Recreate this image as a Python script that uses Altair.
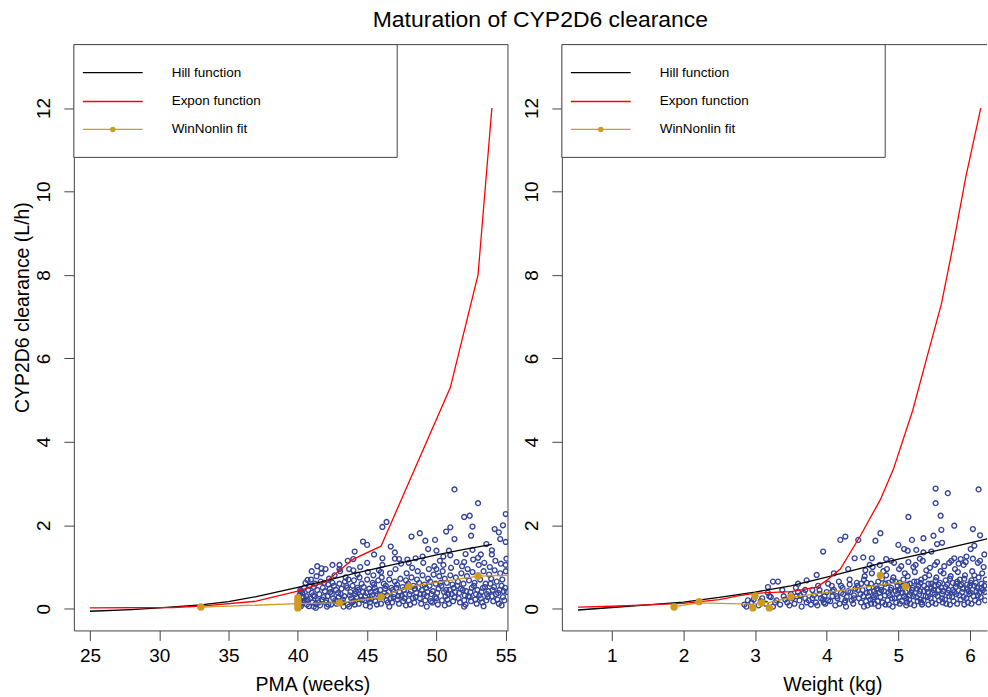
import altair as alt
import pandas as pd

FONT = "Liberation Sans, Arial, Helvetica, sans-serif"
FRAME = "#444444"
BLUE = "#34449A"
ORANGE = "#CD9B1D"

# ---------------- data ----------------
pma_ticks = [25, 30, 35, 40, 45, 50, 55]
wt_ticks = [1, 2, 3, 4, 5, 6]
cl_ticks = [0, 2, 4, 6, 8, 10, 12]

# Hill function (black)
hill_pma = [25, 28, 30, 33, 35, 37, 40, 42, 44, 46, 48, 50, 52, 54]
hill_cl_pma = [-0.06, -0.02, 0.02, 0.09, 0.17, 0.29, 0.51, 0.67, 0.84, 0.99, 1.14, 1.29, 1.42, 1.54]
hill_wt = [0.53, 1.0, 1.5, 2.0, 2.5, 3.0, 3.5, 4.0, 4.5, 5.0, 5.5, 6.0, 6.3]
hill_cl_wt = [-0.03, 0.03, 0.09, 0.16, 0.27, 0.40, 0.55, 0.76, 0.98, 1.19, 1.38, 1.58, 1.70]

# Expon function (red)
exp_pma = [25, 31, 33, 37, 40, 42, 44, 46, 51, 53, 54]
exp_cl_pma = [0.02, 0.03, 0.06, 0.18, 0.42, 0.64, 1.19, 1.50, 5.30, 8.00, 12.00]
exp_wt = [0.53, 1.0, 1.5, 2.0, 2.5, 2.8, 3.0, 3.5, 3.86, 4.0, 4.19, 4.47, 4.75, 4.93,
          5.2, 5.39, 5.6, 5.76, 5.94, 6.15]
exp_cl_wt = [0.04, 0.06, 0.09, 0.13, 0.22, 0.32, 0.37, 0.41, 0.52, 0.68, 0.95, 1.75, 2.62, 3.34,
             4.75, 5.97, 7.30, 8.67, 10.34, 12.00]

# WinNonlin fit (orange): line and points
wnl_line_pma = [33, 40, 43, 46, 48, 53, 55.1]
wnl_line_cl_pma = [0.04, 0.12, 0.14, 0.28, 0.53, 0.78, 0.80]
wnl_pts_pma = [33, 40, 40, 40, 40, 43, 46, 48, 53]
wnl_pts_cl_pma = [0.04, 0.02, 0.10, 0.18, 0.26, 0.14, 0.28, 0.53, 0.78]
wnl_line_wt = [1.87, 2.21, 2.95, 3.2, 3.5, 3.95, 4.64, 5.1]
wnl_line_cl_wt = [0.05, 0.14, 0.11, 0.15, 0.27, 0.38, 0.54, 0.65]
wnl_pts_wt = [1.87, 2.22, 2.97, 3.0, 3.09, 3.2, 3.5, 4.75, 5.1]
wnl_pts_cl_wt = [0.04, 0.17, 0.02, 0.30, 0.14, 0.02, 0.28, 0.80, 0.53]

# observed clearance vs PMA (blue open circles)
obs_pma_points = [
    (40.05, 0.05), (40.2, 0.12), (40.1, 0.2), (40.3, 0.28), (40.15, 0.35), (40.35, 0.15), (40.25, 0.42), (40.1, 0.08),
    (40.5, 0.18), (40.6, 0.3), (40.45, 0.5), (40.7, 0.22), (40.55, 0.62), (40.65, 0.1),
    (40.9, 0.25), (41.0, 0.38), (40.85, 0.55), (41.05, 0.15), (40.95, 0.7), (41.1, 0.32),
    (41.3, 0.12), (41.2, 0.3), (41.4, 0.45), (41.25, 0.6), (41.45, 0.2), (41.35, 0.78), (41.15, 0.05),
    (41.6, 0.08), (41.75, 0.22), (41.55, 0.35), (41.8, 0.5), (41.65, 0.65), (41.85, 0.28), (41.7, 0.85),
    (42.0, 0.15), (42.15, 0.3), (41.95, 0.42), (42.2, 0.58), (42.05, 0.2), (42.25, 0.72), (42.1, 0.05),
    (42.4, 0.1), (42.55, 0.25), (42.35, 0.4), (42.6, 0.55), (42.45, 0.35), (42.65, 0.8), (42.5, 0.62),
    (42.8, 0.12), (42.95, 0.28), (42.75, 0.45), (43.0, 0.6), (42.85, 0.18), (43.05, 0.9), (42.9, 0.38),
    (43.2, 0.15), (43.35, 0.3), (43.15, 0.48), (43.4, 0.65), (43.25, 0.22), (43.45, 0.75), (43.3, 0.05),
    (43.6, 0.1), (43.75, 0.32), (43.55, 0.5), (43.8, 0.4), (43.65, 0.7), (43.85, 0.25), (43.7, 0.95),
    (44.0, 0.18), (44.15, 0.35), (43.95, 0.55), (44.2, 0.42), (44.05, 0.68), (44.25, 0.28), (44.1, 0.1), (44.3, 0.82),
    (44.4, 0.12), (44.55, 0.3), (44.35, 0.45), (44.6, 0.6), (44.45, 0.75), (44.65, 0.22), (44.5, 1.0),
    (44.8, 0.2), (44.95, 0.38), (44.75, 0.52), (45.0, 0.7), (44.85, 0.3), (45.05, 0.88), (44.9, 0.08),
    (45.2, 0.15), (45.35, 0.32), (45.15, 0.48), (45.4, 0.62), (45.25, 0.4), (45.45, 0.8), (45.3, 0.25),
    (45.6, 0.18), (45.75, 0.35), (45.55, 0.5), (45.8, 0.68), (45.65, 0.42), (45.85, 0.92), (45.7, 0.1),
    (46.0, 0.12), (46.15, 0.3), (45.95, 0.45), (46.2, 0.6), (46.05, 0.75), (46.25, 0.38), (46.1, 1.05),
    (46.4, 0.2), (46.55, 0.4), (46.35, 0.55), (46.6, 0.7), (46.45, 0.32), (46.65, 0.85), (46.5, 0.15),
    (46.8, 0.15), (46.95, 0.35), (46.75, 0.5), (47.0, 0.65), (46.85, 0.45), (47.05, 0.95), (46.9, 0.28),
    (47.2, 0.22), (47.35, 0.4), (47.15, 0.58), (47.4, 0.72), (47.25, 0.3), (47.45, 1.08), (47.3, 0.12),
    (47.6, 0.18), (47.75, 0.35), (47.55, 0.52), (47.8, 0.68), (47.65, 0.45), (47.85, 0.85), (47.7, 0.25),
    (48.0, 0.2), (48.15, 0.42), (47.95, 0.6), (48.2, 0.75), (48.05, 0.35), (48.25, 0.98), (48.1, 0.1),
    (48.4, 0.15), (48.55, 0.38), (48.35, 0.55), (48.6, 0.7), (48.45, 0.48), (48.65, 0.9), (48.5, 0.28),
    (48.8, 0.25), (48.95, 0.45), (48.75, 0.62), (49.0, 0.8), (48.85, 0.35), (49.05, 1.1), (48.9, 0.12),
    (49.2, 0.2), (49.35, 0.4), (49.15, 0.58), (49.4, 0.72), (49.25, 0.5), (49.45, 0.95), (49.3, 0.3),
    (49.6, 0.18), (49.75, 0.42), (49.55, 0.65), (49.8, 0.82), (49.65, 0.35), (49.85, 1.02), (49.7, 0.15),
    (50.0, 0.25), (50.15, 0.48), (49.95, 0.6), (50.2, 0.78), (50.05, 0.38), (50.25, 1.15), (50.1, 0.1),
    (50.4, 0.2), (50.55, 0.4), (50.35, 0.55), (50.6, 0.72), (50.45, 0.9), (50.65, 0.3), (50.5, 1.05),
    (50.8, 0.22), (50.95, 0.45), (50.75, 0.62), (51.0, 0.8), (50.85, 0.35), (51.05, 0.98), (50.9, 0.12),
    (51.2, 0.18), (51.35, 0.4), (51.15, 0.58), (51.4, 0.75), (51.25, 0.5), (51.45, 1.12), (51.3, 0.28),
    (51.6, 0.25), (51.75, 0.48), (51.55, 0.65), (51.8, 0.85), (51.65, 0.38), (51.85, 1.02), (51.7, 0.15),
    (52.0, 0.2), (52.15, 0.42), (51.95, 0.6), (52.2, 0.78), (52.05, 0.32), (52.25, 0.95), (52.1, 0.1),
    (52.4, 0.28), (52.55, 0.5), (52.35, 0.68), (52.6, 0.88), (52.45, 0.4), (52.65, 1.18), (52.5, 0.18),
    (52.8, 0.22), (52.95, 0.45), (52.75, 0.62), (53.0, 0.8), (52.85, 0.35), (53.05, 1.05), (52.9, 0.12),
    (53.2, 0.25), (53.35, 0.5), (53.15, 0.7), (53.4, 0.9), (53.25, 0.4), (53.45, 1.1), (53.3, 0.15),
    (53.6, 0.2), (53.75, 0.42), (53.55, 0.6), (53.8, 0.82), (53.65, 0.35), (53.85, 1.0), (53.7, 0.28),
    (54.0, 0.3), (54.15, 0.52), (53.95, 0.72), (54.2, 0.92), (54.05, 0.45), (54.25, 1.15), (54.1, 0.18),
    (54.4, 0.22), (54.55, 0.45), (54.35, 0.65), (54.6, 0.85), (54.45, 0.38), (54.65, 1.08), (54.5, 0.12),
    (54.8, 0.28), (54.95, 0.5), (54.75, 0.7), (55.0, 0.9), (54.85, 0.42), (55.05, 1.2), (54.9, 0.2),
    (40.02, 0.25), (40.12, 0.32), (40.22, 0.06), (40.32, 0.38), (40.18, 0.45), (40.4, 0.28), (40.28, 0.18),
    (40.75, 0.45), (40.8, 0.06), (41.15, 0.52), (41.5, 0.15), (41.9, 0.62), (42.3, 0.48), (42.7, 0.2),
    (43.1, 0.35), (43.5, 0.55), (43.9, 0.15), (44.3, 0.5), (44.7, 0.4), (45.1, 0.22), (45.5, 0.58),
    (45.9, 0.3), (46.3, 0.48), (46.7, 0.25), (47.1, 0.5), (47.5, 0.32), (47.9, 0.55), (48.3, 0.25),
    (48.7, 0.5), (49.1, 0.35), (49.5, 0.55), (49.9, 0.28), (50.3, 0.62), (50.7, 0.45), (51.1, 0.35),
    (51.5, 0.55), (51.9, 0.45), (52.3, 0.3), (52.7, 0.55), (53.1, 0.32), (53.5, 0.52), (53.9, 0.6),
    (54.3, 0.35), (54.7, 0.55), (55.1, 0.4),
    (41.0, 0.9), (42.0, 0.95), (43.0, 1.05), (44.0, 0.92), (45.0, 1.1), (46.0, 0.88), (47.0, 1.2),
    (48.0, 1.1), (49.0, 1.25), (50.0, 0.95), (51.0, 1.28), (52.0, 1.12), (53.0, 1.22), (54.0, 1.3), (55.0, 1.05),
    (41.3, 0.02), (42.2, 0.1), (43.7, 0.05), (45.2, 0.05), (46.6, 0.05), (47.8, 0.08), (49.3, 0.05),
    (50.6, 0.08), (52.0, 0.05), (53.4, 0.06), (54.7, 0.08),
    (51.3, 2.86), (53.0, 2.53), (52.0, 2.2), (52.4, 2.23), (52.6, 1.97), (46.4, 2.08), (46.1, 1.96),
    (44.7, 1.61), (45.0, 1.53), (44.1, 1.37), (55.0, 2.27), (48.2, 1.73), (48.8, 1.81), (49.2, 1.63),
    (49.9, 1.65), (51.3, 1.67), (52.5, 1.75), (54.2, 1.91), (54.5, 1.83), (54.6, 1.67), (46.7, 1.49),
    (41.4, 1.02), (41.7, 0.97), (40.7, 0.69), (43.6, 1.15), (44.0, 1.19), (46.1, 1.21), (47.3, 1.19),
    (47.9, 1.18), (48.5, 1.21), (49.4, 1.43), (50.0, 1.39), (50.9, 1.39), (52.1, 1.31), (52.6, 1.41),
    (53.6, 1.55), (42.5, 1.05), (43.0, 0.95), (45.5, 1.3), (47.0, 1.35), (50.5, 1.25), (53.2, 1.3),
    (54.0, 1.4), (55.0, 1.6), (54.8, 2.0), (50.7, 1.85), (51.0, 1.95),
]

# observed clearance vs weight (blue open circles)
obs_wt_points = [
    (2.85, 0.1), (2.9, 0.2), (2.88, 0.05), (2.95, 0.15), (3.0, 0.3), (2.98, 0.22),
    (3.05, 0.08), (3.1, 0.25), (3.08, 0.18), (3.15, 0.12), (3.2, 0.3), (3.18, 0.38),
    (3.25, 0.05), (3.3, 0.2), (3.28, 0.15), (3.22, 0.28), (3.35, 0.1), (3.4, 0.3), (3.38, 0.45), (3.42, 0.22),
    (3.45, 0.15), (3.5, 0.35), (3.48, 0.08), (3.52, 0.25), (3.55, 0.12), (3.6, 0.4), (3.58, 0.3), (3.62, 0.2), (3.57, 0.5),
    (3.65, 0.05), (3.7, 0.25), (3.68, 0.38), (3.72, 0.15), (3.75, 0.2), (3.8, 0.45), (3.78, 0.1), (3.82, 0.32),
    (3.85, 0.15), (3.9, 0.35), (3.88, 0.55), (3.92, 0.25), (3.87, 0.08),
    (3.95, 0.22), (4.0, 0.4), (3.98, 0.12), (4.02, 0.6), (3.97, 0.3),
    (4.05, 0.18), (4.1, 0.45), (4.08, 0.3), (4.12, 0.08), (4.07, 0.55),
    (4.15, 0.25), (4.2, 0.38), (4.18, 0.12), (4.22, 0.5), (4.17, 0.65),
    (4.25, 0.15), (4.3, 0.42), (4.28, 0.28), (4.32, 0.58), (4.27, 0.05), (4.23, 0.35),
    (4.35, 0.2), (4.4, 0.48), (4.38, 0.32), (4.42, 0.62), (4.37, 0.12), (4.33, 0.4),
    (4.45, 0.25), (4.5, 0.45), (4.48, 0.15), (4.52, 0.7), (4.47, 0.35), (4.43, 0.55),
    (4.55, 0.18), (4.6, 0.4), (4.58, 0.3), (4.62, 0.6), (4.57, 0.08), (4.53, 0.78), (4.59, 0.5),
    (4.65, 0.22), (4.7, 0.48), (4.68, 0.35), (4.72, 0.65), (4.67, 0.12), (4.63, 0.85), (4.69, 0.55),
    (4.75, 0.28), (4.8, 0.42), (4.78, 0.15), (4.82, 0.6), (4.77, 0.72), (4.73, 0.38), (4.79, 0.9),
    (4.85, 0.2), (4.9, 0.5), (4.88, 0.32), (4.92, 0.68), (4.87, 0.1), (4.83, 0.8), (4.89, 0.45),
    (4.95, 0.25), (5.0, 0.45), (4.98, 0.35), (5.02, 0.62), (4.97, 0.15), (4.93, 0.75), (4.99, 0.55), (5.01, 0.95),
    (5.05, 0.18), (5.1, 0.4), (5.08, 0.3), (5.12, 0.58), (5.07, 0.7), (5.03, 0.48), (5.09, 0.85), (5.11, 0.08),
    (5.15, 0.22), (5.2, 0.5), (5.18, 0.38), (5.22, 0.65), (5.17, 0.12), (5.13, 0.78), (5.19, 0.45), (5.21, 1.0),
    (5.25, 0.28), (5.3, 0.42), (5.28, 0.55), (5.32, 0.7), (5.27, 0.18), (5.23, 0.88), (5.29, 0.35), (5.31, 0.62),
    (5.35, 0.2), (5.4, 0.48), (5.38, 0.3), (5.42, 0.6), (5.37, 0.75), (5.33, 0.1), (5.39, 0.92), (5.41, 0.4),
    (5.45, 0.25), (5.5, 0.55), (5.48, 0.38), (5.52, 0.68), (5.47, 0.15), (5.43, 0.8), (5.49, 0.45), (5.51, 1.05),
    (5.55, 0.3), (5.6, 0.5), (5.58, 0.62), (5.62, 0.42), (5.57, 0.2), (5.53, 0.75), (5.59, 0.9), (5.61, 0.35),
    (5.65, 0.22), (5.7, 0.45), (5.68, 0.58), (5.72, 0.72), (5.67, 0.12), (5.63, 0.85), (5.69, 0.38), (5.71, 1.1),
    (5.75, 0.28), (5.8, 0.52), (5.78, 0.4), (5.82, 0.65), (5.77, 0.18), (5.73, 0.78), (5.79, 0.95), (5.81, 0.6),
    (5.85, 0.32), (5.9, 0.48), (5.88, 0.58), (5.92, 0.72), (5.87, 0.22), (5.83, 0.88), (5.89, 0.4), (5.91, 1.05),
    (5.95, 0.25), (6.0, 0.55), (5.98, 0.42), (6.02, 0.68), (5.97, 0.15), (5.93, 0.8), (5.99, 0.35), (6.01, 0.62),
    (6.05, 0.3), (6.1, 0.5), (6.08, 0.62), (6.12, 0.75), (6.07, 0.2), (6.03, 0.9), (6.09, 0.42), (6.11, 1.1),
    (6.15, 0.28), (6.2, 0.55), (6.18, 0.45), (6.22, 0.7), (6.17, 0.85), (6.13, 0.38), (6.19, 1.0),
    (4.51, 0.3), (4.56, 0.62), (4.61, 0.22), (4.66, 0.42), (4.71, 0.18), (4.76, 0.52), (4.81, 0.32),
    (4.86, 0.62), (4.91, 0.25), (4.96, 0.42), (5.01, 0.28), (5.06, 0.55), (5.11, 0.25), (5.16, 0.6),
    (5.21, 0.3), (5.26, 0.48), (5.31, 0.22), (5.36, 0.55), (5.41, 0.28), (5.46, 0.6), (5.51, 0.35),
    (5.56, 0.45), (5.61, 0.25), (5.66, 0.52), (5.71, 0.3), (5.76, 0.45), (5.81, 0.35), (5.86, 0.55),
    (5.91, 0.28), (5.96, 0.48), (6.01, 0.38), (6.06, 0.55), (6.11, 0.32), (6.16, 0.6), (6.21, 0.4),
    (4.54, 0.92), (4.64, 1.0), (4.74, 1.05), (4.84, 0.95), (4.94, 1.1), (5.04, 1.02), (5.14, 1.12),
    (5.24, 1.05), (5.34, 1.15), (5.44, 0.98), (5.54, 1.12), (5.64, 1.02), (5.74, 1.15), (5.84, 1.08),
    (5.94, 1.12), (6.04, 1.2), (6.14, 1.15),
    (4.52, 0.05), (4.62, 0.12), (4.72, 0.06), (4.82, 0.1), (4.92, 0.05), (5.02, 0.12), (5.12, 0.15),
    (5.22, 0.08), (5.32, 0.15), (5.42, 0.1), (5.52, 0.12), (5.62, 0.15), (5.72, 0.1), (5.82, 0.12),
    (5.92, 0.1), (6.02, 0.12), (6.12, 0.15), (6.21, 0.2),
    (4.56, 0.38), (4.66, 0.28), (4.76, 0.45), (4.86, 0.38), (4.96, 0.65), (5.06, 0.38), (5.16, 0.32),
    (5.26, 0.65), (5.36, 0.42), (5.46, 0.5), (5.56, 0.58), (5.66, 0.68), (5.76, 0.62), (5.86, 0.7),
    (5.96, 0.58), (6.06, 0.8), (6.16, 0.5),
    (4.02, 0.2), (4.08, 0.42), (4.14, 0.3), (4.2, 0.55), (4.26, 0.2), (4.32, 0.7), (4.38, 0.25),
    (4.44, 0.45), (4.48, 0.6), (3.9, 0.45), (3.96, 0.15), (3.8, 0.25), (3.7, 0.45), (3.63, 0.32),
    (5.52, 2.88), (5.69, 2.77), (6.12, 2.86), (5.52, 2.53), (5.59, 2.23), (5.14, 2.2),
    (5.49, 1.75), (5.6, 1.89), (5.78, 1.99), (6.04, 1.91), (6.14, 1.76), (4.75, 1.81), (4.68, 1.63),
    (4.19, 1.65), (4.26, 1.73), (4.44, 1.65), (3.95, 1.37), (5.0, 1.53), (5.19, 1.65), (5.35, 1.69),
    (5.54, 1.55), (5.61, 1.58), (5.78, 1.21), (5.87, 1.19), (3.25, 0.65), (3.32, 0.65), (3.18, 0.52),
    (3.6, 0.6), (3.72, 0.68), (3.86, 0.81), (4.39, 1.21), (4.51, 1.23), (4.63, 1.21), (4.83, 1.19),
    (4.9, 1.15), (5.08, 1.43), (5.13, 1.39), (5.25, 1.41), (5.35, 1.35), (5.46, 1.37), (6.01, 1.43),
    (6.06, 1.51), (4.1, 0.85), (4.3, 0.95), (4.6, 1.05), (5.3, 1.2), (5.95, 1.25), (6.2, 1.3),
]

legend_labels = ["Hill function", "Expon function", "WinNonlin fit"]
legend_colors = ["#000000", "#FF0000", ORANGE]

# ---------------- layout constants ----------------
W1, W2, H = 435, 426, 587
PMA_DOM = [23.84, 55.16]
WT_DOM = [0.304, 6.237]
CL_DOM = [-0.52, 13.52]
LEG_W, LEG_H = 324, 113
LEG_ROWS = [28, 57, 85]


def panel(obs, hill, expo, wline, wpts, xdom, xticks, xtitle, title_x, width,
          ytitle, right_border):
    xs = alt.Scale(domain=xdom, nice=False, zero=False)
    ys = alt.Scale(domain=CL_DOM, nice=False, zero=False)
    xax = alt.Axis(values=xticks, title=xtitle, titleX=title_x, titleY=54,
                   titleBaseline="middle", titleAlign="center", labelFlush=False,
                   labelOverlap=False, labelPadding=6)
    yargs = dict(values=cl_ticks, labelAngle=270, labelAlign="center",
                 labelBaseline="alphabetic", labelPadding=14, labelOverlap=False)
    if ytitle:
        yax = alt.Axis(title=ytitle, titleX=-51, titleY=263, titleAngle=270,
                       titleBaseline="middle", titleAlign="center", **yargs)
    else:
        yax = alt.Axis(title=None, **yargs)

    def enc():
        return dict(x=alt.X("x:Q", scale=xs, axis=xax),
                    y=alt.Y("y:Q", scale=ys, axis=yax))

    def frame(xs_, ys_):
        return pd.DataFrame({"x": xs_, "y": ys_})

    df_obs = frame([p[0] for p in obs], [p[1] for p in obs])
    df_hill = frame(*hill)
    df_exp = frame(*expo)
    df_wl = frame(*wline)
    df_wp = frame(*wpts)

    layers = [
        alt.Chart(df_obs).mark_point(shape="circle", filled=False, size=24,
                                     strokeWidth=1.35, color=BLUE, opacity=1,
                                     clip=True).encode(**enc()),
        alt.Chart(df_hill).mark_line(color="#000000", strokeWidth=1.3, clip=True).encode(**enc()),
        alt.Chart(df_exp).mark_line(color="#FF0000", strokeWidth=1.3, clip=True).encode(**enc()),
        alt.Chart(df_wl).mark_line(color=ORANGE, strokeWidth=1.3, clip=True).encode(**enc()),
        alt.Chart(df_wp).mark_point(shape="circle", filled=True, size=55, color=ORANGE,
                                    opacity=1, clip=True).encode(**enc()),
    ]

    one = pd.DataFrame({"k": [0]})
    # frame (top edge, and right edge for the left panel)
    layers.append(alt.Chart(one).mark_rule(color=FRAME, strokeWidth=1).encode(
        x=alt.value(0), x2=alt.value(width), y=alt.value(0)))
    if right_border:
        layers.append(alt.Chart(one).mark_rule(color=FRAME, strokeWidth=1).encode(
            x=alt.value(width), y=alt.value(0), y2=alt.value(H)))

    # legend box
    layers.append(alt.Chart(one).mark_rect(fill="white", stroke=FRAME, strokeWidth=1).encode(
        x=alt.value(0), x2=alt.value(LEG_W), y=alt.value(0), y2=alt.value(LEG_H)))
    for i, (lab, col) in enumerate(zip(legend_labels, legend_colors)):
        ldf = pd.DataFrame({"label": [lab]})
        yy = LEG_ROWS[i]
        layers.append(alt.Chart(ldf).mark_rule(color=col, strokeWidth=1.3).encode(
            x=alt.value(9), x2=alt.value(69), y=alt.value(yy)))
        layers.append(alt.Chart(ldf).mark_text(align="left", baseline="middle", font=FONT,
                                               fontSize=13.5, color="#000000").encode(
            x=alt.value(98), y=alt.value(yy), text="label:N"))
        if i == 2:
            layers.append(alt.Chart(ldf).mark_point(shape="circle", filled=True, size=30,
                                                    color=ORANGE, opacity=1).encode(
                x=alt.value(39), y=alt.value(yy)))

    return alt.layer(*layers).properties(width=width, height=H)


left = panel(obs_pma_points, (hill_pma, hill_cl_pma), (exp_pma, exp_cl_pma),
             (wnl_line_pma, wnl_line_cl_pma), (wnl_pts_pma, wnl_pts_cl_pma),
             PMA_DOM, pma_ticks, "PMA (weeks)", 239, W1, "CYP2D6 clearance (L/h)", True)
right = panel(obs_wt_points, (hill_wt, hill_cl_wt), (exp_wt, exp_cl_wt),
              (wnl_line_wt, wnl_line_cl_wt), (wnl_pts_wt, wnl_pts_cl_wt),
              WT_DOM, wt_ticks, "Weight (kg)", 271, W2, None, False)

chart = alt.hconcat(left, right, spacing=54, bounds="flush").properties(
    title=alt.TitleParams("Maturation of CYP2D6 clearance", font=FONT, fontSize=23,
                          fontWeight="normal", color="#000000", anchor="start",
                          dx=361, offset=12),
    padding={"left": 12, "top": 8, "right": 0, "bottom": 0},
).configure_view(stroke="transparent").configure_axis(
    grid=False, domain=True, domainColor=FRAME, domainWidth=1, tickColor=FRAME,
    tickWidth=1, tickSize=10, labelFont=FONT, labelFontSize=19, labelColor="#000000",
    titleFont=FONT, titleFontSize=19.5, titleFontWeight="normal", titleColor="#000000",
)

chart.save("out.html", embed_options={"renderer": "svg", "actions": False})
